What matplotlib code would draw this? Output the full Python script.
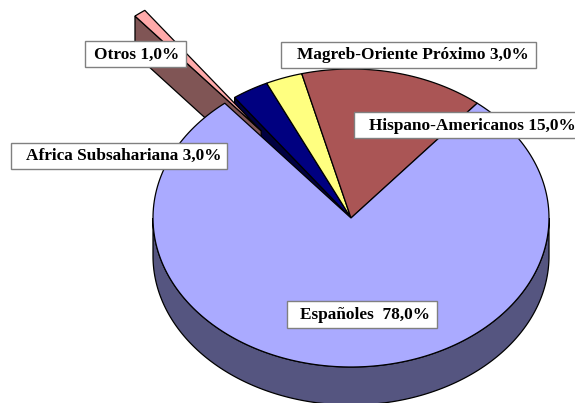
import numpy as np
import matplotlib
matplotlib.use('Agg')
import matplotlib.pyplot as plt
from matplotlib.patches import Polygon

# clockwise order, starting at the Espanoles slice
names = ['Españoles', 'Otros', 'Africa Subsahariana', 'Magreb-Oriente Próximo', 'Hispano-Americanos']
values = [78.0, 1.0, 3.0, 3.0, 15.0]
label_texts = ['Españoles  78,0%', 'Otros 1,0%', 'Africa Subsahariana 3,0%',
               'Magreb-Oriente Próximo 3,0%', 'Hispano-Americanos 15,0%']

top_colors = ['#AAAAFF', '#FFAAAA', '#000080', '#FFFF80', '#AA5555']
side_colors = ['#555580', '#805555', '#000040', '#808040', '#552A2A']
# label boxes in pixels: left, top, right, bottom, text right end
boxes = [(287, 301, 436.5, 327.5, 430), (84.5, 41, 185.5, 67, 179), (10.5, 142.5, 227, 168.5, 221.5),
         (281, 42, 536, 67.5, 529), (354, 112, 580, 138, 576)]

cx, cy = 351, 218
rx, ry = 198, 149
depth = 38
start_angle = 39.6
explode = {'Otros': 0.74}
cut_walls = ['Otros', 'Africa Subsahariana']

plt.rcParams['font.family'] = ['Liberation Serif', 'DejaVu Serif']

fig = plt.figure(figsize=(5.75, 4.03), dpi=100)
ax = fig.add_axes([0, 0, 1, 1])
ax.set_xlim(0, 575)
ax.set_ylim(403, 0)
ax.axis('off')


def rim(a, b, ox=0, oy=0):
    t = np.radians(np.linspace(a, b, 200))
    return np.column_stack([cx + ox + rx * np.sin(t), cy + oy - ry * np.cos(t)])


edges = np.cumsum([0] + values) * 3.6 + start_angle
for i, name in enumerate(names):
    a, b = edges[i], edges[i + 1]
    mid = np.radians((a + b) / 2)
    e = explode.get(name, 0)
    ox, oy = e * rx * np.sin(mid), -e * ry * np.cos(mid)
    apex = np.array([cx + ox, cy + oy])
    arc = rim(a, b, ox, oy)
    down = np.array([0, depth])

    if name == 'Españoles':
        # front wall of the big slice
        front = rim(90, 270)
        ax.add_patch(Polygon(np.vstack([front, (front + down)[::-1]]), fc=side_colors[i], ec='black', lw=0.9, zorder=1))
    elif name in cut_walls:
        # wall on the cut edge that faces the viewer
        wall = np.array([arc[0], arc[0] + down, apex + down, apex])
        ax.add_patch(Polygon(wall, fc=side_colors[i], ec='black', lw=0.9, zorder=3 if name == 'Otros' else 2))
    z = 5 if name == 'Españoles' else 4
    ax.add_patch(Polygon(np.vstack([[apex], arc]), fc=top_colors[i], ec='black', lw=0.9, zorder=z))

for text, (x0, y0, x1, y1, tx) in zip(label_texts, boxes):
    ax.add_patch(Polygon([(x0, y0), (x1, y0), (x1, y1), (x0, y1)], fc='white', ec='#808080', lw=1, zorder=6))
    ax.text(tx, (y0 + y1) / 2 + 0.5, text, ha='right', va='center', fontsize=12.45,
            fontweight='bold', color='black', zorder=7)

fig.savefig('out.png', dpi=100)
